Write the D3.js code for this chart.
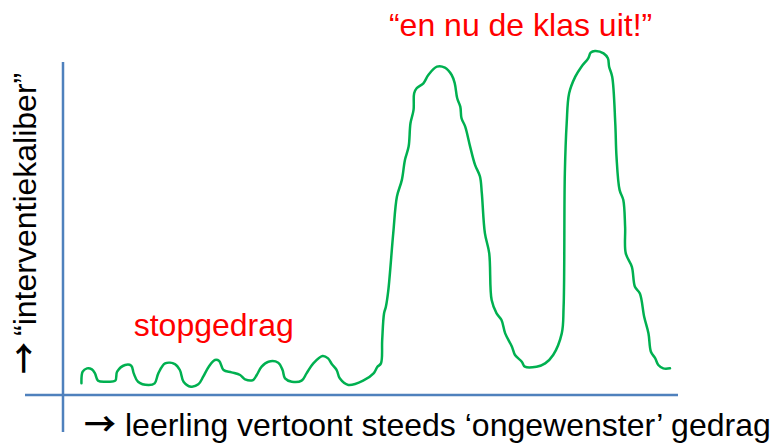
<!DOCTYPE html>
<html>
<head>
<meta charset="utf-8">
<script src="https://cdn.jsdelivr.net/npm/d3@7"></script>
<style>
  body{margin:0;background:#fff;}
  svg{display:block;}
</style>
</head>
<body>
<svg id="chart"></svg>
<script>
var WIDTH=773;
var HEIGHT=446;

// gedrag (x, 0-100) en interventiekaliber (y, 0-100)
var gedrag=[3.0,3.2,3.9,4.7,5.2,5.7,7.1,8.5,8.8,10.1,11.1,11.5,12.2,13.9,14.9,15.5,16.6,18.2,19.0,19.6,
  20.8,22.0,22.8,23.7,24.7,25.4,26.1,27.4,28.8,29.6,30.9,31.5,32.3,33.4,35.0,35.7,36.1,37.2,38.8,39.6,
  40.7,42.2,43.1,43.7,44.5,45.0,46.4,48.8,50.5,51.1,51.7,
  51.9,52.2,52.5,52.9,53.7,54.3,55.1,55.6,56.2,56.5,57.0,57.1,57.5,58.6,59.4,60.8,62.1,63.2,63.7,64.1,
  64.6,64.8,65.4,66.2,67.0,67.8,68.1,68.6,69.3,69.7,70.5,71.3,71.9,73.0,73.5,74.6,75.1,77.0,78.4,79.7,
  81.1,81.4,81.6,81.9,82.3,83.3,84.3,85.4,85.8,86.5,87.9,88.6,88.8,89.3,89.8,90.0,90.5,91.1,91.4,91.5,
  92.5,93.0,93.8,94.5,95.2,95.6,96.3,96.8,97.6,98.7];
var kaliber=[3.5,7.0,8.0,7.7,6.5,4.3,4.0,4.3,7.0,9.0,8.8,6.5,4.0,3.0,3.5,6.5,9.5,9.3,7.5,4.0,
  2.5,3.2,5.5,8.5,10.5,10.2,7.5,6.8,6.0,4.7,4.5,6.0,8.5,10.0,9.7,7.5,5.0,4.0,4.3,6.5,
  9.5,11.7,11.0,9.3,7.5,5.0,3.0,4.3,6.5,8.4,9.5,
  16.5,24.5,26.5,31.5,48.6,59.6,64.6,70.6,74.6,81.6,85.6,90.6,92.1,93.6,96.1,98.6,98.3,96.1,93.6,89.1,
  86.6,83.1,80.6,74.6,69.1,65.6,60.6,48.6,42.6,28.5,24.5,22.5,18.5,14.5,12.0,10.0,8.5,8.5,9.5,12.0,
  18.5,26.5,66.6,81.6,90.6,95.6,98.6,101.1,102.8,103.3,102.6,101.1,98.6,95.6,81.6,71.6,61.6,58.6,50.5,42.6,
  38.5,32.5,30.5,23.5,18.5,13.0,11.0,9.0,8.0,8.0];

var arrow="\u2192";
var xLabel="leerling vertoont steeds \u2018ongewenster\u2019 gedrag";
var yLabel="\u201cinterventiekaliber\u201d";
var notes=["stopgedrag","\u201cen nu de klas uit!\u201d"];
var noteX=[11.5,53.0];   // in gedrag-eenheden
var noteY=[17.7,107.8];  // in kaliber-eenheden (baseline)

var svg=d3.select("#chart").attr("width",WIDTH).attr("height",HEIGHT);

var x=d3.scaleLinear().domain([0,100]).range([63,678]);
var y=d3.scaleLinear().domain([0,100]).range([395,62]);

// assen
svg.append("line")
    .attr("x1",x(0)).attr("x2",x(0))
    .attr("y1",y(100)).attr("y2",432)
    .attr("stroke","#4F81BD").attr("stroke-width",2.5);
svg.append("line")
    .attr("x1",25).attr("x2",x(100))
    .attr("y1",y(0)).attr("y2",y(0))
    .attr("stroke","#4F81BD").attr("stroke-width",2.5);

// curve
var pts=gedrag.map(function(d,i){return [d,kaliber[i]];});
var line=d3.line()
    .x(function(d){return x(d[0]);})
    .y(function(d){return y(d[1]);})
    .curve(d3.curveCatmullRom.alpha(0.5));

svg.append("path")
    .datum(pts)
    .attr("d",line)
    .attr("fill","none")
    .attr("stroke","#00B050")
    .attr("stroke-width",2.5)
    .attr("stroke-linejoin","round")
    .attr("stroke-linecap","round");

// teksten
var font="'Liberation Sans', Arial, sans-serif";
var arrowFont="'Noto Sans CJK SC'";

var xt=svg.append("text")
    .attr("x",84).attr("y",436)
    .attr("font-family",font).attr("font-size",32)
    .attr("fill","#000");
xt.append("tspan").attr("font-family",arrowFont).attr("font-size",32).attr("font-weight","bold").text(arrow);
xt.append("tspan").attr("x",125).attr("font-weight","normal").text(xLabel);

var yt=svg.append("text")
    .attr("transform","translate(36,374) rotate(-90)")
    .attr("font-family",font).attr("font-size",32)
    .attr("fill","#000");
yt.append("tspan").attr("font-family",arrowFont).attr("font-size",32).attr("font-weight","bold").text(arrow);
yt.append("tspan").attr("x",38).attr("font-weight","normal").text(yLabel);

svg.selectAll("text.note").data(notes).enter().append("text")
    .attr("class","note")
    .attr("x",function(d,i){return x(noteX[i]);})
    .attr("y",function(d,i){return y(noteY[i]);})
    .attr("font-family",font).attr("font-size",32)
    .attr("fill","#FF0000")
    .text(function(d){return d;});
</script>
</body>
</html>
